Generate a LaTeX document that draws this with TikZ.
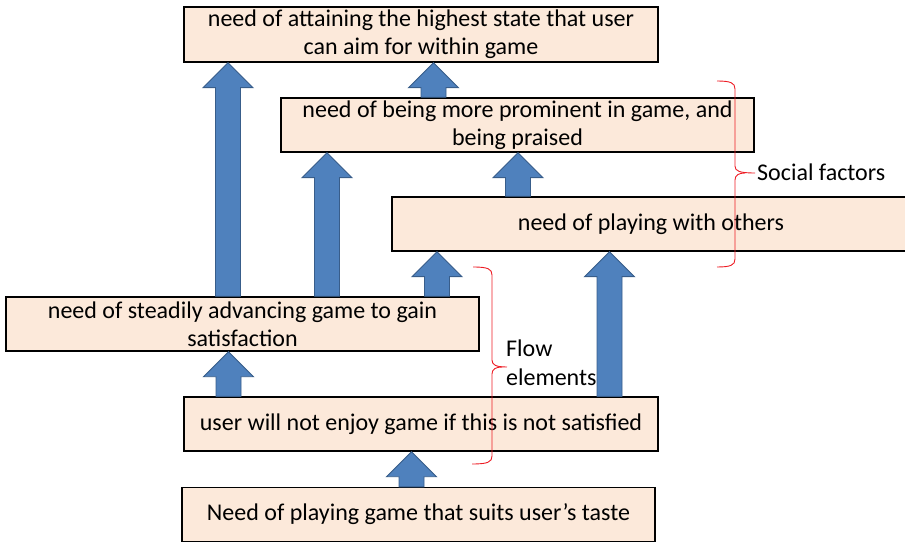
\documentclass[tikz,border=0pt]{standalone}
\usepackage{fontspec}
\setmainfont{Carlito}
\usepackage{tikz}
\usetikzlibrary{calc,positioning}
\definecolor{needfill}{RGB}{252,233,218}
\definecolor{arrfill}{RGB}{79,129,189}
\definecolor{arrline}{RGB}{56,93,138}
\definecolor{bracered}{RGB}{237,28,36}
\newcommand{\needarrow}[3]{% x, from node, to node
	\draw[needarr] let \p1=(#2.north), \p2=(#3.south) in
		(#1pt-12.5pt,\y1) -- (#1pt-12.5pt,\y2-25pt) -- (#1pt-25pt,\y2-25pt) -- (#1pt,\y2)
		-- (#1pt+25pt,\y2-25pt) -- (#1pt+12.5pt,\y2-25pt) -- (#1pt+12.5pt,\y1) -- cycle;
}

\begin{document}
\begin{tikzpicture}[x=1pt,y=-1pt,
	needbox/.style={draw=black,fill=needfill,line width=1.4pt,inner sep=0pt,align=center,
		font=\fontsize{24}{28}\selectfont},
	needarr/.style={fill=arrfill,draw=arrline,line width=0.9pt},
	bracepath/.style={draw=bracered,line width=0.9pt},
	sidelabel/.style={anchor=west,align=left,inner sep=0pt,font=\fontsize{24}{29}\selectfont}]
				\useasboundingbox (0,0) rectangle (905,545);
				%\draw[color=gray,step=10pt, help lines,opacity=0.3] (0,0) grid (905,545); %help grids
				\node[needbox,minimum width=474pt,minimum height=55pt] (top) at (421,34.5) {need of attaining the highest state that user\\can aim for within game};
				\node[needbox,minimum width=473pt,minimum height=54pt] (prominent) at (517.5,125) {need of being more prominent in game, and\\being praised};
				\node[needbox,minimum width=518pt,minimum height=54pt] (others) at (651,224) {need of playing with others};
				\node[needbox,minimum width=473pt,minimum height=54pt] (steady) at (242.5,324) {need of steadily advancing game to gain\\satisfaction};
				\node[needbox,minimum width=474pt,minimum height=54pt] (enjoy) at (421,424) {user will not enjoy game if this is not satisfied};
				\node[needbox,minimum width=473pt,minimum height=54pt] (taste) at (418.5,514.5) {Need of playing game that suits user’s taste};
				\needarrow{228}{steady}{top}
				\needarrow{327}{steady}{prominent}
				\needarrow{437}{steady}{others}
				\needarrow{433.5}{prominent}{top}
				\needarrow{518}{others}{prominent}
				\needarrow{609.5}{enjoy}{others}
				\needarrow{228.5}{enjoy}{steady}
				\needarrow{411.5}{taste}{enjoy}
				% social factors brace
				\draw[bracepath] (717,81) .. controls (731,81) and (735,83) .. (735,89) -- (735,166)
					.. controls (735,171) and (739,173) .. (755,173);
				\draw[bracepath] (717,267) .. controls (731,267) and (735,265) .. (735,259) -- (735,180)
					.. controls (735,175) and (739,173) .. (745,173);
				\node[sidelabel] (social) at (757,172) {Social factors};
				% flow elements brace
				\draw[bracepath] (473,267) .. controls (488,267) and (492,269) .. (492,275) -- (492,360)
					.. controls (492,365) and (496,367) .. (507,367);
				\draw[bracepath] (472,464) .. controls (488,464) and (492,462) .. (492,456) -- (492,374)
					.. controls (492,369) and (496,367) .. (502,367);
				\node[sidelabel] (flow) at (506,362.5) {Flow\\elements};
\end{tikzpicture}
\end{document}
